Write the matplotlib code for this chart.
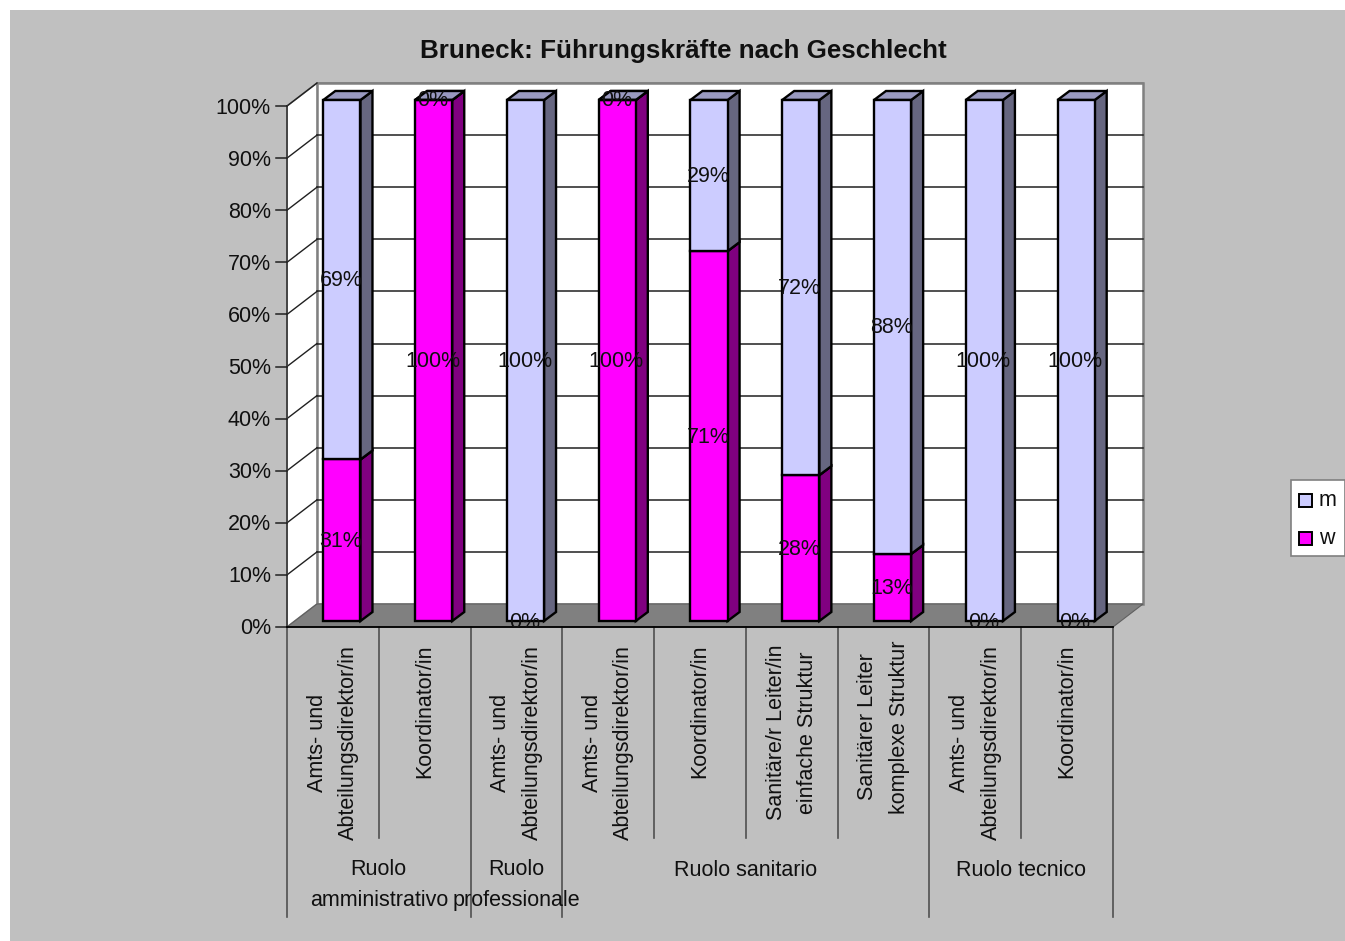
import matplotlib
matplotlib.use('Agg')
import matplotlib.pyplot as plt
from matplotlib.patches import Rectangle, Polygon
from matplotlib.transforms import Affine2D

W, H = 1345, 941

categories = [
    'Amts- und\nAbteilungsdirektor/in', 'Koordinator/in',
    'Amts- und\nAbteilungsdirektor/in',
    'Amts- und\nAbteilungsdirektor/in', 'Koordinator/in',
    'Sanitäre/r Leiter/in\neinfache Struktur',
    'Sanitärer Leiter\nkomplexe Struktur',
    'Amts- und\nAbteilungsdirektor/in', 'Koordinator/in',
]
groups = ['Ruolo\namministrativo', 'Ruolo\nprofessionale', 'Ruolo sanitario', 'Ruolo tecnico']
group_spans = [(0, 2), (2, 3), (3, 7), (7, 9)]
w_vals = [31, 100, 0, 100, 71, 28, 13, 0, 0]
m_vals = [69, 0, 100, 0, 29, 72, 88, 100, 100]
y_ticks = list(range(0, 101, 10))

GRAY = '#c0c0c0'
INK = '#101010'
M_FRONT, M_SIDE, M_TOP = '#ccccff', '#666680', '#9999c0'
W_FRONT, W_SIDE, W_TOP = '#ff00ff', '#800080', '#c000c0'
FS = 15.5

plt.rcParams['font.family'] = ['Liberation Sans', 'DejaVu Sans']
fig = plt.figure(figsize=(W/100, H/100), dpi=100, facecolor='white')

# grey chart area
bg = fig.add_axes([0, 0, 1, 1])
bg.set_xlim(0, W); bg.set_ylim(H, 0); bg.axis('off')
bg.add_patch(Rectangle((10, 10), W-10, H-10, fc=GRAY, ec='none'))

# front plane of the 3d box, everything else is shifted from it in pixels
x0, x1, y0, y1 = 287, 1113, 627, 106
ax = fig.add_axes([x0/W, 1-y0/H, (x1-x0)/W, (y0-y1)/H])
ax.set_xlim(0, 9); ax.set_ylim(0, 100); ax.axis('off')
ax.patch.set_visible(False)

def shifted(dx, dy):
    return ax.transData + Affine2D().translate(dx, -dy)

def y_below(px):
    # data y for a pixel row under the axis
    return -(px - y0) * 100 / (y0 - y1)

WALL = (30, 23)

# walls and floor
ax.add_patch(Rectangle((0, 0), 9, 100, fc='white', ec='#808080', lw=1.8, clip_on=False,
                       transform=shifted(WALL[0], -WALL[1]), zorder=1))
p = ax.transData.transform([(0, 0), (0, 100)])
ax.add_patch(Polygon([p[0], p[1], p[1] + WALL, p[0] + WALL], transform=None, fc='white',
                     ec='#808080', lw=1.2, clip_on=False, zorder=1))
p = ax.transData.transform([(0, 0), (9, 0)])
ax.add_patch(Polygon([p[0], p[1], p[1] + WALL, p[0] + WALL], transform=None, fc='#808080',
                     ec='#606060', lw=0.8, clip_on=False, zorder=2))

# gridlines on the back wall and the left wall
for t in y_ticks[1:]:
    ax.plot([0, 9], [t, t], color='#202020' if t < 100 else '#808080', lw=1.1, clip_on=False,
            transform=shifted(WALL[0], -WALL[1]), zorder=1.5)
    a = ax.transData.transform((0, t))
    b = a + WALL
    ax.plot([a[0], b[0]], [a[1], b[1]], color='#202020', lw=1.0, transform=None, clip_on=False, zorder=1.5)

# stacked columns, normalised to 100 per category
BAR_W = 0.405
FACE = (9, -6)
DEPTH = (12, 9)

def column(i, lo, hi, front, side, top):
    trans = shifted(*FACE)
    left = i + 0.5 - BAR_W/2
    ax.add_patch(Rectangle((left, lo), BAR_W, hi-lo, fc=front, ec='black', lw=1.7,
                           transform=trans, clip_on=False, zorder=4, joinstyle='miter'))
    pts = trans.transform([(left+BAR_W, lo), (left+BAR_W, hi), (left, hi)])
    ax.add_patch(Polygon([pts[0], pts[1], pts[1]+DEPTH, pts[0]+DEPTH], transform=None, fc=side,
                         ec='black', lw=1.7, clip_on=False, zorder=3.5))
    ax.add_patch(Polygon([pts[2], pts[1], pts[1]+DEPTH, pts[2]+DEPTH], transform=None, fc=top,
                         ec='black', lw=1.7, clip_on=False, zorder=3.5))

for i, (wv, mv) in enumerate(zip(w_vals, m_vals)):
    ws = wv * 100 / (wv + mv)
    if wv > 0:
        column(i, 0, ws, W_FRONT, W_SIDE, W_TOP)
    # an empty m segment still leaves its lid on top of the stack
    column(i, ws, 100, M_FRONT, M_SIDE, M_TOP)
    lab = shifted(8, -5)
    ax.text(i+0.5, ws/2, f'{wv}%', ha='center', va='center', fontsize=FS,
            color=INK, transform=lab, zorder=6, clip_on=False)
    ax.text(i+0.5, ws + (100-ws)/2, f'{mv}%', ha='center', va='center', fontsize=FS,
            color=INK, transform=lab, zorder=6, clip_on=False)

# y axis
ax.plot([0, 0], [0, 100], color='#404040', lw=1.3, clip_on=False, zorder=5)
for t in y_ticks:
    ax.plot([-0.12, 0], [t, t], color='#202020', lw=1.1, clip_on=False, zorder=5)
    ax.text(-0.175, t, f'{t}%', ha='right', va='center', fontsize=FS, color=INK, clip_on=False,
            transform=shifted(0, 2))
ax.plot([0, 9], [0, 0], color='black', lw=1.3, clip_on=False, zorder=5)

# category axis with two levels of dividers
for i in range(1, 9):
    if i not in (2, 3, 7):
        ax.plot([i, i], [0, y_below(838)], color='#505050', lw=1.2, clip_on=False)
for i in (0, 2, 3, 7, 9):
    ax.plot([i, i], [0, y_below(917)], color='#505050', lw=1.2, clip_on=False)

for i, c in enumerate(categories):
    top = 640 if 'komplexe' in c else 645
    ax.text(i+0.5, y_below(top), c, rotation=90, ha='center', va='top', ma='center', fontsize=FS,
            color=INK, linespacing=1.64, clip_on=False)

for g, (a, b) in zip(groups, group_spans):
    row = 870 if '\n' not in g else 885
    ax.text((a+b)/2, y_below(row), g, ha='center', va='center', ma='center', fontsize=FS,
            color=INK, linespacing=1.58, clip_on=False)

# title
bg.text(683, 51, 'Bruneck: Führungskräfte nach Geschlecht', ha='center', va='center',
        fontsize=18.7, fontweight='bold', color=INK)

# legend
bg.add_patch(Rectangle((1291, 480), 54, 76, fc='white', ec='#808080', lw=1.2, clip_on=False))
for name, col, yy in (('m', M_FRONT, 500), ('w', W_FRONT, 538)):
    bg.add_patch(Rectangle((1299, yy-6), 13, 13, fc=col, ec='black', lw=1.4))
    bg.text(1319, yy, name, ha='left', va='center', fontsize=FS, color=INK)

fig.savefig('out.png', dpi=100, facecolor='white')
